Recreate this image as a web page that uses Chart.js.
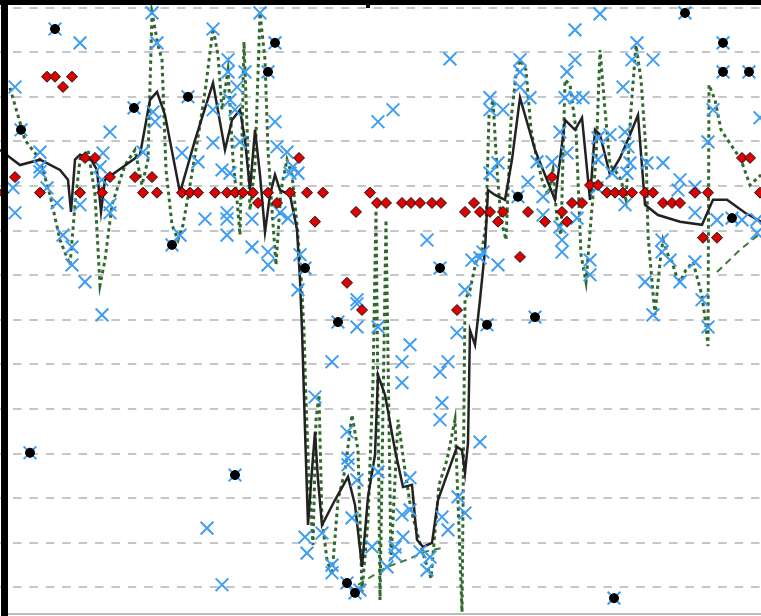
<!DOCTYPE html>
<html>
<head>
<meta charset="utf-8">
<script src="https://cdn.jsdelivr.net/npm/chart.js@4/dist/chart.umd.min.js"></script>
<style>
  html, body { margin: 0; padding: 0; background: #fff; }
  canvas { display: block; }
</style>
</head>
<body>
<canvas id="c" width="761" height="616"></canvas>
<script>
// Sample position (x) and reading (y) for each series.
const trend = [
  [0,98.1],[2.0,94.7],[4.0,95.9],[6.0,93.6],[6.8,91.4],[7.1,84.2],[7.5,95.9],[8.0,97.0],[9.0,96.3],[9.7,93.6],
  [10.1,84.2],[10.5,91.4],[14.0,97.0],[15.0,109.3],[15.7,111.1],[16.5,105.9],[18.0,88.5],[19.5,100.3],[21.3,113.1],
  [22.5,98.1],[23.2,104.8],[24.0,107.1],[24.5,100.3],[25.0,89.1],[25.5,102.6],[26.0,92.5],[26.5,79.7],[27.0,88.0],
  [27.5,92.5],[28.0,89.1],[29.0,88.0],[29.7,80.2],[30.0,68.9],[30.2,57.7],[30.5,35.3],[30.8,14.0],[31.2,26.3],
  [31.5,34.9],[31.8,24.1],[32.2,14.0],[33.5,19.6],[34.8,24.8],[35.5,18.5],[36.2,4.6],[36.8,20.3],[37.5,29.7],
  [37.8,47.6],[38.5,43.2],[39.5,30.8],[40.3,22.5],[41.2,23.0],[41.7,10.7],[42.3,9.1],[43.2,10.0],[43.8,19.6],
  [45.7,31.5],[46.2,30.8],[46.5,25.7],[46.8,32.4],[47.0,57.7],[47.5,54.4],[48.0,64.5],[48.5,75.7],[48.8,89.1],
  [49.5,88.0],[50.5,86.9],[51.2,95.9],[52.0,109.8],[53.5,98.1],[55.5,86.9],[56.5,104.8],[57.5,102.6],[58.2,105.3],
  [59.0,86.9],[59.5,102.6],[60.0,101.5],[61.0,92.5],[62.0,96.3],[63.0,101.5],[63.8,105.9],[64.5,85.8],[65.8,83.5],
  [68.0,82.0],[70.2,81.3],[71.3,86.9],[72.7,86.9],[74.5,84.0],[76.1,82.0]
];

const dotted = [
  [1.0,112.0],[2.5,100.3],[4.0,95.9],[5.0,88.0],[6.0,77.9],[7.0,72.3],[7.5,85.8],[8.0,95.9],[8.8,98.1],[9.5,88.0],
  [10.0,67.8],[10.5,73.4],[11.2,85.8],[12.5,94.7],[13.5,98.1],[14.2,90.2],[14.8,95.9],[15.2,128.8],[15.8,121.6],
  [16.2,118.3],[16.6,93.6],[17.2,81.3],[17.8,77.9],[18.3,81.3],[19.0,90.2],[20.0,103.7],[20.6,112.7],[21.3,125.4],
  [21.8,119.4],[22.2,107.1],[22.8,116.0],[23.3,95.9],[23.7,86.9],[24.0,79.0],[24.4,122.3],[25.0,84.6],[25.5,94.7],
  [26.0,128.8],[26.5,118.3],[26.8,98.1],[27.2,84.6],[27.6,72.3],[28.1,89.1],[28.7,95.9],[29.2,92.5],[29.7,81.3],
  [30.1,70.1],[30.4,57.7],[30.6,42.0],[30.9,24.1],[31.3,9.5],[31.6,37.6],[31.9,43.2],[32.2,15.1],[32.7,6.2],
  [33.2,2.8],[33.8,19.6],[34.5,26.3],[35.2,38.7],[35.8,30.8],[36.2,-1.0],[36.8,15.1],[37.3,46.5],[37.6,84.6],
  [38.0,-2.8],[38.6,82.4],[39.1,6.2],[39.8,37.6],[40.5,26.3],[41.1,17.4],[41.9,10.7],[42.5,6.2],[43.1,2.1],
  [43.9,23.0],[44.7,28.6],[45.5,37.6],[46.2,-5.5],[46.5,64.5],[47.0,66.7],[47.6,73.0],[48.2,75.7],[48.6,81.3],
  [48.9,105.9],[49.3,109.3],[49.7,93.6],[50.1,82.4],[50.6,77.9],[51.1,104.8],[51.6,114.9],[52.0,118.3],[52.6,116.0],
  [53.1,102.6],[53.7,95.9],[54.2,91.4],[54.8,88.0],[55.3,93.6],[55.7,82.4],[56.1,79.0],[56.5,113.8],[57.0,112.7],
  [57.6,102.6],[58.1,74.6],[58.6,68.5],[59.1,82.4],[59.6,95.9],[60.0,120.5],[60.5,107.1],[61.0,94.7],[61.6,93.2],
  [62.1,91.4],[62.6,86.9],[63.1,107.1],[63.6,121.6],[64.1,113.8],[64.6,98.1],[64.8,79.0],[65.2,68.5],[65.5,61.1],
  [66.0,73.0],[66.3,77.9],[66.8,74.6],[67.2,73.0],[67.6,70.1],[68.0,68.5],[68.6,71.2],[69.3,73.0],[70.2,65.4],
  [70.6,58.7],[70.8,54.1],[70.9,112.7],[71.5,109.3],[72.1,102.6],[73.1,99.2],[74.1,95.9],[75.0,90.2],[76.1,92.5]
];

const baselineLow = [[35.8,0.6],[38.7,4.6],[40.7,6.2],[42.5,8.0],[44.5,9.0]];
const baselineHigh = [[71.7,70.7],[74.0,75.7],[76.1,79.5]];

const crosses = [
  [1.5,112.2],[1.3,89.6],[1.5,84.0],[4.0,97.6],[4.0,94.3],[4.0,93.2],[4.7,89.6],[5.7,86.2],[6.3,79.0],[7.2,76.3],
  [7.2,72.3],[8.5,68.5],[10.2,61.1],[8.0,85.8],[8.0,122.1],[11.0,102.1],[10.3,97.4],[10.0,94.3],[10.2,91.4],[11.0,85.8],
  [11.0,84.0],[14.3,97.6],[15.3,106.6],[15.5,104.4],[15.2,128.8],[15.7,122.1],[18.2,97.4],[19.8,95.4],[18.0,79.0],
  [20.5,82.6],[21.3,125.2],[22.8,118.3],[22.8,115.6],[23.7,112.2],[24.5,115.6],[23.0,109.3],[23.5,107.1],[21.3,107.1],
  [21.3,99.7],[22.2,93.6],[23.0,92.9],[24.0,99.9],[22.7,84.0],[22.7,82.6],[22.7,79.0],[25.2,82.6],[25.2,76.3],
  [26.0,128.8],[27.5,104.4],[28.7,97.6],[29.3,94.3],[29.8,92.9],[29.0,92.9],[27.7,98.8],[26.8,75.2],[26.8,72.3],
  [28.0,84.0],[28.8,82.8],[30.0,74.6],[29.8,66.7],[45.0,118.5],[37.8,104.4],[39.3,107.1],[49.0,109.8],[49.0,107.1],
  [50.3,107.1],[49.8,95.2],[49.0,92.9],[60.0,128.6],[57.5,125.0],[52.0,118.3],[52.0,115.6],[52.0,112.2],[53.0,109.8],
  [57.5,118.3],[56.7,115.6],[56.5,109.8],[57.5,109.8],[58.3,109.8],[63.7,122.1],[63.2,118.3],[65.3,118.3],[62.3,112.2],
  [71.3,107.1],[70.8,99.9],[56.0,102.1],[53.7,95.4],[55.2,95.4],[52.8,90.9],[61.0,101.5],[62.5,102.1],[62.8,98.8],
  [63.0,95.2],[62.7,92.9],[59.8,100.8],[59.8,95.9],[61.2,92.9],[64.7,95.2],[66.3,95.2],[68.0,91.4],[67.8,89.1],
  [69.5,89.8],[59.7,89.6],[54.3,87.6],[76.0,105.3],[56.7,97.4],[35.7,64.5],[35.7,63.6],[35.7,58.4],[37.8,58.4],
  [33.2,50.6],[31.5,42.7],[41.0,54.4],[40.2,50.6],[40.2,45.9],[42.7,77.9],[44.2,41.4],[44.0,48.3],[44.8,50.6],
  [45.7,57.1],[46.5,66.7],[48.3,75.2],[48.0,73.9],[47.2,73.4],[49.8,72.3],[54.3,83.5],[56.0,80.8],[56.2,77.9],
  [56.2,75.2],[59.0,73.4],[59.0,70.1],[57.7,82.8],[62.5,85.8],[64.5,68.5],[65.3,61.1],[66.2,77.9],[66.2,75.2],
  [67.0,73.4],[69.5,84.0],[69.5,73.0],[68.0,68.5],[70.2,64.5],[70.8,58.4],[71.7,82.4],[74.2,82.4],[75.7,79.5],
  [75.7,82.4],[20.7,13.3],[22.2,0.6],[34.7,34.9],[34.8,29.0],[34.8,27.5],[35.7,24.1],[35.2,15.6],[33.2,5.0],
  [33.2,3.3],[30.5,11.3],[30.7,7.7],[32.2,12.2],[37.2,9.1],[37.8,25.9],[36.0,-0.6],[40.2,16.3],[39.5,9.1],
  [39.5,7.3],[40.3,11.3],[38.7,4.6],[41.0,24.6],[41.0,17.4],[42.0,8.0],[43.0,6.8],[42.7,3.9],[44.0,37.6],
  [44.2,15.8],[44.8,12.9],[45.8,20.3],[46.5,16.7],[48.0,32.6]
];

const dots = [
  [5.5,125.2],[2.1,102.6],[13.4,107.5],[18.8,110.0],[17.2,76.8],[27.5,122.1],[26.8,115.6],[30.5,71.6],[33.8,59.5],
  [44.0,71.6],[48.7,58.9],[53.5,60.6],[51.8,87.6],[73.2,82.8],[68.5,128.8],[72.3,122.1],[72.3,115.6],[74.9,115.6],
  [61.4,-2.4],[3.0,30.2],[23.5,25.2],[34.7,1.0],[35.5,-1.2]
];

const diamonds = [
  [0.3,88.5],[4.0,88.5],[8.0,88.5],[10.2,88.5],[14.3,88.5],[15.7,88.5],[18.2,88.5],[19.0,88.5],[19.8,88.5],[21.5,88.5],
  [22.7,88.5],[23.5,88.5],[24.3,88.5],[25.3,88.5],[26.8,88.5],[29.0,88.5],[30.7,88.5],[32.3,88.5],[37.0,88.5],
  [60.7,88.5],[61.5,88.5],[62.3,88.5],[63.2,88.5],[64.5,88.5],[65.3,88.5],[69.5,88.5],[70.8,88.5],[76.0,88.5],
  [25.8,86.2],[27.7,86.2],[37.7,86.2],[38.6,86.2],[40.2,86.2],[41.1,86.2],[42.0,86.2],[43.2,86.2],[44.1,86.2],
  [47.4,86.2],[57.2,86.2],[58.2,86.2],[66.3,86.2],[67.2,86.2],[68.0,86.2],
  [1.5,92.0],[11.0,92.0],[13.5,92.0],[15.2,92.0],[55.2,92.0],
  [8.5,96.3],[9.5,96.3],[29.9,96.3],[74.2,96.3],[75.0,96.3],
  [59.0,90.2],[59.8,90.2],
  [4.7,114.5],[5.5,114.5],[7.2,114.5],[6.3,112.2],
  [35.6,84.2],[46.5,84.2],[48.0,84.2],[49.0,84.2],[50.3,84.2],[52.8,84.2],[56.2,84.2],
  [31.5,82.0],[49.8,82.0],[54.5,82.0],[56.7,82.0],
  [34.7,68.3],[36.2,62.2],[52.0,74.1],[45.7,62.2],[70.3,78.4],[71.7,78.4]
];

// Horizontal reference levels
const levels = [0,10,20,30,40,50,60,70,80,90,100,110,120,130];

const pts = a => a.map(p => ({ x: p[0], y: p[1] }));

// Heavy frame on the left and top edges, light rule along the bottom
const framePlugin = {
  id: 'frame',
  afterDraw(chart) {
    const ctx = chart.ctx;
    const w = chart.width, h = chart.height;
    ctx.save();
    ctx.fillStyle = '#bdbdbd';
    ctx.fillRect(8, h - 3, w - 8, 2);
    ctx.fillStyle = '#000';
    ctx.fillRect(1, 0, 7, h);
    ctx.fillRect(0, 0, w, 5);
    ctx.fillRect(366, 0, 4, 8);
    ctx.restore();
  }
};

new Chart(document.getElementById('c'), {
  type: 'scatter',
  data: {
    datasets: [
      {
        data: pts(diamonds), order: 0,
        pointStyle: 'rectRot', pointRadius: 5.5, backgroundColor: '#e00000',
        borderColor: '#111', borderWidth: 1
      },
      {
        data: pts(dots), order: 1,
        pointStyle: 'circle', pointRadius: 4.5, backgroundColor: '#000', borderColor: '#000', borderWidth: 1
      },
      {
        data: pts(dots), order: 2,
        pointStyle: 'crossRot', pointRadius: 9, borderColor: '#3d9df2', borderWidth: 2
      },
      {
        data: pts(crosses), order: 3,
        pointStyle: 'crossRot', pointRadius: 9, borderColor: '#3d9df2', borderWidth: 2
      },
      {
        data: pts(trend), order: 4, showLine: true,
        borderColor: '#222', borderWidth: 2.5, pointRadius: 0, tension: 0
      },
      {
        data: pts(dotted), order: 5, showLine: true,
        borderColor: '#2f6a2c', borderWidth: 3, borderDash: [3.5, 3.5], pointRadius: 0, tension: 0
      },
      {
        data: pts(baselineLow), order: 6, showLine: true,
        borderColor: '#3a7a35', borderWidth: 2, borderDash: [7, 5], pointRadius: 0
      },
      {
        data: pts(baselineHigh), order: 6, showLine: true,
        borderColor: '#3a7a35', borderWidth: 2, borderDash: [7, 5], pointRadius: 0
      }
    ]
  },
  options: {
    responsive: false,
    devicePixelRatio: 1,
    animation: false,
    clip: false,
    layout: { padding: 0, autoPadding: false },
    plugins: { legend: { display: false }, tooltip: { enabled: false } },
    scales: {
      x: { type: 'linear', display: false, min: 0, max: 76.1 },
      y: {
        type: 'linear', min: -6.4, max: 131.7,
        afterBuildTicks: axis => { axis.ticks = levels.map(v => ({ value: v })); },
        ticks: { display: false },
        grid: { color: '#c6c6c6', lineWidth: 2, drawTicks: false },
        border: { display: false, dash: [8.5, 7.9], dashOffset: 3.4 }
      }
    }
  },
  plugins: [framePlugin]
});
</script>
</body>
</html>
